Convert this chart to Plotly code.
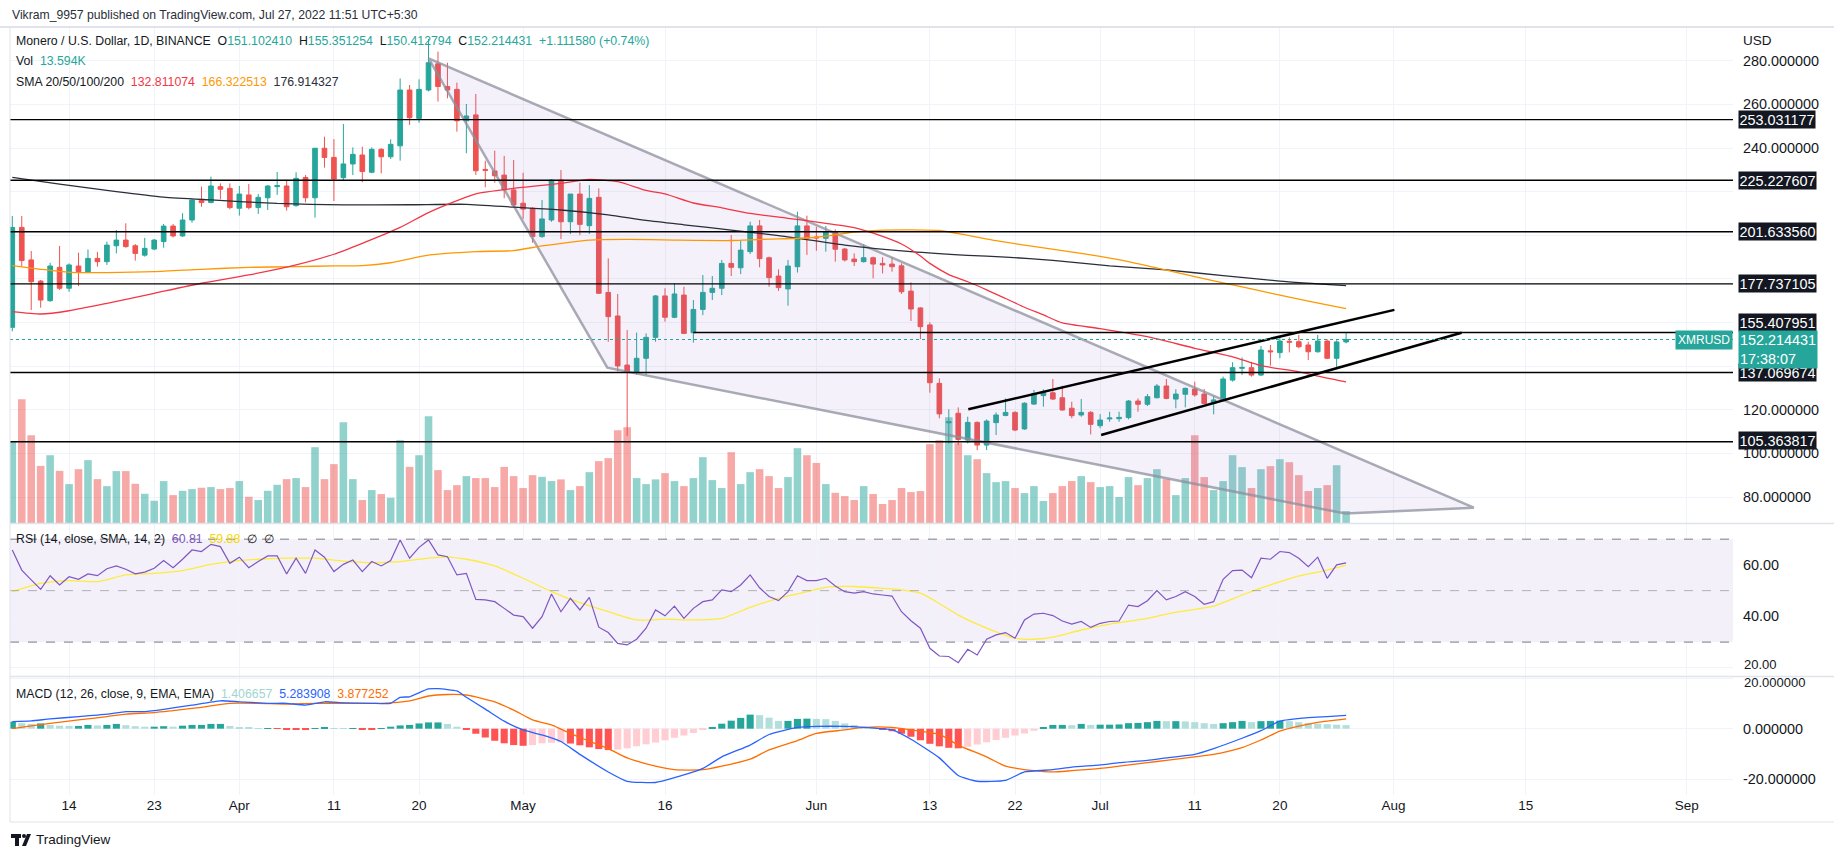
import plotly.graph_objects as go
import pandas as pd

# ---------------- data ----------------
START = "2022-03-08"
opens = [157.8, 203.6, 188.7, 179.0, 170.0, 185.3, 175.7, 185.9, 183.0, 189.4,
         187.9, 195.2, 197.8, 195.2, 190.9, 193.7, 197.1, 204.2, 199.7, 207.0,
         215.9, 215.0, 222.3, 221.5, 212.4, 218.5, 212.7, 217.2, 222.3, 222.6,
         213.6, 226.5, 217.2, 239.9, 235.7, 226.4, 232.7, 236.8, 228.9, 239.4,
         236.0, 241.0, 266.6, 253.6, 266.6, 278.6, 268.2, 266.9, 252.5, 255.2,
         230.2, 229.5, 227.6, 220.8, 214.7, 212.4, 199.4, 207.0, 225.3, 206.2,
         218.9, 204.4, 217.4, 173.8, 163.0, 140.5, 137.2, 143.6, 153.2, 172.2,
         162.4, 172.6, 155.3, 166.0, 173.8, 175.7, 187.1, 185.1, 192.5, 204.3,
         189.7, 181.3, 175.4, 185.6, 204.3, 199.2, 198.6, 201.6, 193.7, 189.1,
         187.9, 189.7, 187.1, 186.8, 186.0, 174.4, 166.7, 158.9, 132.1, 114.0,
         118.4, 106.1, 114.2, 103.8, 114.1, 117.4, 118.8, 111.2, 122.6, 126.5,
         127.8, 125.5, 120.7, 117.6, 118.8, 112.7, 115.8, 115.9, 116.4, 124.0,
         122.5, 125.5, 130.9, 124.9, 127.1, 129.5, 127.2, 122.9, 124.2, 133.6,
         139.0, 139.3, 135.9, 147.0, 146.2, 151.4, 151.2, 149.7, 146.6, 151.5,
         143.6, 151.102410]
highs = [208.8, 208.8, 192.8, 179.5, 187.4, 195.1, 187.1, 192.0, 193.5, 192.3,
         197.1, 202.4, 205.5, 196.0, 198.8, 198.3, 205.2, 205.2, 210.1, 216.2,
         222.3, 226.9, 223.8, 223.8, 222.6, 223.5, 218.9, 223.0, 229.0, 225.4,
         228.9, 227.6, 240.0, 245.2, 244.1, 251.0, 240.3, 240.6, 240.3, 239.9,
         244.0, 271.9, 268.9, 271.5, 290.0, 284.2, 279.1, 270.0, 260.2, 264.8,
         234.2, 238.8, 236.4, 234.5, 228.7, 212.9, 216.2, 225.6, 229.9, 218.9,
         224.1, 223.0, 221.5, 189.4, 173.1, 156.6, 155.4, 155.0, 172.6, 175.7,
         178.0, 176.4, 170.3, 181.8, 181.3, 188.7, 200.1, 197.5, 206.2, 207.0,
         190.2, 184.4, 188.7, 210.8, 209.0, 203.9, 204.3, 202.7, 194.2, 191.7,
         195.9, 190.2, 189.9, 189.9, 187.1, 178.4, 167.0, 160.1, 134.4, 120.2,
         121.1, 116.8, 114.7, 115.6, 118.8, 125.2, 119.3, 123.4, 129.1, 129.4,
         134.1, 131.0, 123.7, 124.9, 119.4, 118.0, 119.1, 119.1, 124.5, 125.2,
         127.2, 131.8, 134.1, 129.4, 130.2, 132.9, 129.5, 126.3, 135.2, 141.8,
         144.0, 142.0, 149.2, 149.7, 153.2, 153.2, 154.3, 151.2, 154.3, 152.3,
         151.9, 155.351254]
lows = [156.0, 185.6, 165.7, 166.8, 169.5, 174.9, 174.1, 176.7, 182.6, 185.6,
        186.4, 191.7, 194.3, 188.4, 190.2, 193.2, 194.3, 199.0, 199.2, 205.8,
        213.1, 214.7, 216.5, 211.9, 209.0, 211.9, 209.8, 211.6, 218.5, 211.3,
        213.1, 215.1, 208.1, 231.0, 215.7, 225.4, 227.6, 224.3, 228.4, 228.4,
        235.0, 234.2, 250.6, 251.6, 266.0, 261.3, 262.8, 247.5, 237.6, 227.6,
        222.0, 224.1, 217.0, 213.1, 207.5, 196.6, 198.8, 206.2, 198.3, 200.6,
        200.1, 200.6, 173.1, 151.2, 137.5, 108.0, 136.0, 136.0, 151.2, 160.4,
        162.0, 155.0, 150.8, 163.4, 170.3, 172.6, 181.3, 182.2, 191.4, 185.3,
        176.4, 174.5, 167.7, 182.9, 191.0, 192.9, 192.5, 187.9, 188.0, 185.9,
        187.5, 180.3, 182.5, 183.3, 173.1, 160.7, 152.4, 127.8, 116.1, 104.6,
        103.8, 104.6, 101.5, 101.5, 108.4, 117.0, 110.2, 110.8, 122.2, 121.4,
        124.5, 119.5, 116.1, 116.8, 108.7, 111.5, 114.5, 114.5, 115.6, 119.1,
        121.7, 125.2, 124.8, 120.7, 121.1, 126.0, 122.6, 117.9, 123.8, 132.9,
        135.9, 135.2, 135.5, 140.2, 143.6, 146.3, 148.2, 142.8, 146.2, 143.2,
        138.5, 150.412794]
closes = [203.6, 188.4, 178.7, 170.3, 185.9, 175.7, 186.4, 183.3, 189.4, 187.9,
          195.5, 197.8, 194.8, 191.7, 194.0, 197.8, 204.2, 199.7, 207.0, 216.2,
          215.0, 222.6, 221.1, 212.7, 218.9, 212.7, 217.4, 222.6, 222.8, 213.1,
          226.1, 217.2, 239.9, 235.7, 225.8, 232.7, 237.1, 229.2, 239.4, 236.0,
          241.7, 266.6, 253.9, 266.9, 279.1, 268.2, 266.6, 252.5, 254.7, 229.6,
          229.8, 227.3, 220.8, 213.9, 212.0, 199.4, 207.5, 225.3, 206.2, 218.9,
          205.0, 216.9, 173.4, 162.7, 140.1, 137.2, 143.6, 153.2, 172.2, 162.4,
          173.1, 155.0, 166.0, 173.8, 175.7, 187.1, 185.3, 193.2, 204.3, 189.3,
          180.6, 176.0, 185.9, 204.3, 198.6, 198.8, 201.6, 193.6, 188.7, 187.9,
          189.7, 186.8, 186.4, 185.6, 174.1, 166.2, 158.1, 132.4, 118.1, 114.5,
          106.4, 114.2, 103.8, 114.8, 117.6, 118.8, 110.7, 123.0, 127.5, 127.8,
          124.9, 119.9, 117.3, 118.8, 113.3, 115.3, 116.2, 116.5, 124.0, 122.5,
          126.0, 130.9, 125.2, 127.2, 129.8, 126.8, 122.9, 124.5, 134.1, 139.3,
          139.4, 135.9, 147.4, 146.6, 151.5, 151.0, 148.9, 146.6, 151.5, 143.6,
          151.1, 152.214431]
volume_k = [91.9, 140.1, 99.4, 64.7, 76.8, 59.1, 44.1, 61.0, 71.2, 49.7,
            41.8, 58.8, 58.8, 44.4, 33.1, 25.2, 47.5, 31.6, 36.5, 38.4,
            39.9, 40.7, 38.4, 39.6, 47.5, 29.7, 26.0, 36.5, 43.3, 49.7,
            50.9, 40.7, 85.9, 49.7, 66.7, 114.1, 49.7, 26.0, 37.3, 32.8,
            28.6, 93.8, 63.6, 76.8, 120.9, 59.9, 37.3, 42.9, 53.1, 50.9,
            50.9, 40.7, 63.6, 53.1, 39.6, 54.2, 52.3, 47.5, 49.4, 37.3,
            41.8, 57.6, 70.1, 73.5, 105.1, 108.5, 50.9, 44.1, 49.4, 56.5,
            47.5, 41.8, 50.9, 74.6, 48.6, 39.6, 80.2, 44.1, 57.6, 61.0,
            53.1, 39.6, 52.0, 84.8, 76.8, 68.1, 44.1, 34.2, 30.5, 26.0,
            41.8, 32.8, 21.5, 26.0, 39.6, 35.0, 36.2, 89.3, 93.8, 119.8,
            90.4, 76.8, 72.3, 56.5, 46.3, 47.5, 39.6, 33.9, 41.8, 24.9,
            33.9, 41.8, 47.5, 53.1, 46.3, 40.7, 41.8, 29.4, 52.0, 42.9,
            50.9, 61.0, 49.7, 31.6, 50.9, 99.4, 52.0, 37.3, 47.5, 76.8,
            63.3, 39.6, 61.0, 64.4, 72.3, 68.9, 54.2, 36.2, 39.6, 42.9,
            65.5, 13.594]

sma_red_idx = [0, 3, 6, 10, 15, 20, 25, 30, 34, 37, 41, 44, 49, 53, 58, 61, 64, 67, 69, 72,
               75, 78, 82, 86, 89, 92, 94, 96, 97, 99, 101, 103, 105, 107, 109, 111, 115, 120, 125, 129,
               132, 136, 139, 141]
sma_red_val = [165.0, 163.9, 165.4, 168.8, 173.4, 178.0, 181.8, 186.4, 191.3, 196.3,
               203.6, 210.4, 219.0, 221.5, 223.8, 225.6, 224.6, 220.6, 219.0, 214.8,
               212.6, 210.0, 207.8, 205.5, 203.5, 199.5, 196.0, 190.5, 187.1, 182.0,
               178.7, 175.0, 171.0, 167.0, 163.5, 159.8, 157.2, 153.5, 148.2, 144.3,
               140.2, 137.4, 134.5, 132.811074]
sma_orange_idx = [0, 3, 6, 10, 15, 20, 25, 30, 34, 37, 40, 44, 49, 53, 56, 61, 65, 70, 76, 80,
                  85, 89, 92, 98, 101, 104, 107, 111, 115, 118, 122, 125, 129, 133, 137, 141]
sma_orange_val = [186.1, 184.4, 183.0, 182.9, 183.3, 184.4, 185.3, 185.6, 186.0, 186.1,
                  187.4, 190.9, 192.5, 193.0, 195.1, 197.8, 198.1, 197.8, 197.6, 198.2,
                  199.1, 201.5, 202.4, 202.2, 200.0, 197.5, 195.5, 193.0, 190.3, 187.9,
                  184.0, 181.0, 177.3, 173.5, 169.8, 166.322513]
sma_black_idx = [0, 5, 11, 16, 21, 28, 35, 42, 48, 53, 58, 63, 67, 71, 76, 81, 88, 95, 101, 105,
                 110, 116, 122, 128, 134, 141]
sma_black_val = [226.6, 223.5, 220.0, 217.5, 216.2, 214.6, 213.9, 214.0, 214.2, 212.9,
                 211.6, 209.4, 206.8, 204.8, 202.4, 199.8, 195.5, 192.5, 190.8, 190.0,
                 188.5, 186.0, 184.1, 181.5, 179.0, 176.914327]

rsi = [65.8, 58.0, 54.2, 50.5, 55.8, 52.2, 55.4, 54.4, 56.5, 55.8,
       58.5, 59.6, 58.3, 56.5, 57.2, 58.7, 61.7, 58.9, 62.2, 65.8,
       65.2, 68.0, 67.1, 60.6, 63.0, 58.9, 61.3, 63.5, 63.5, 56.5,
       62.6, 56.7, 65.8, 63.0, 57.4, 60.2, 61.9, 57.4, 61.3, 59.6,
       61.7, 69.7, 62.6, 66.8, 69.7, 63.9, 63.2, 56.1, 56.7, 46.6,
       46.4, 45.7, 43.1, 40.5, 39.9, 35.4, 39.9, 48.7, 41.8, 47.0,
       42.5, 47.4, 35.8, 33.7, 29.5, 28.9, 31.1, 35.4, 42.5, 40.2,
       44.0, 39.2, 43.1, 45.7, 46.4, 50.3, 49.6, 52.2, 56.1, 51.1,
       47.7, 46.1, 49.6, 55.8, 53.9, 53.9, 54.8, 51.8, 49.6, 49.0,
       49.6, 48.7, 48.3, 47.9, 41.8, 38.3, 35.4, 27.6, 24.6, 24.4,
       22.0, 27.2, 25.0, 31.1, 32.8, 33.7, 31.5, 38.6, 40.9, 41.2,
       40.3, 38.2, 37.0, 38.0, 35.7, 37.3, 38.0, 38.2, 44.4, 43.8,
       46.1, 50.0, 46.4, 47.7, 49.6, 47.7, 44.7, 45.7, 54.4, 57.8,
       58.0, 55.0, 62.6, 62.2, 65.2, 64.8, 62.6, 59.3, 63.0, 54.8,
       60.0, 60.81]
rsi_sma_idx = [0, 3, 6, 9, 12, 15, 18, 21, 23, 26, 29, 32, 35, 38, 41, 44, 46, 48, 51, 54,
               57, 60, 63, 66, 69, 72, 75, 78, 81, 83, 86, 89, 92, 94, 96, 98, 100, 103, 106, 108,
               110, 113, 116, 120, 122, 125, 127, 130, 133, 136, 139, 141]
rsi_sma_val = [49.6, 52.8, 53.9, 53.5, 56.1, 56.7, 57.8, 60.2, 61.3, 62.2,
               62.6, 62.6, 61.5, 60.9, 61.3, 62.6, 63.0, 62.2, 59.6, 54.8,
               49.6, 45.3, 41.8, 38.6, 38.9, 38.6, 39.2, 43.5, 47.0, 48.7,
               51.3, 51.6, 50.9, 50.3, 49.0, 45.0, 40.5, 35.4, 31.5, 31.1,
               31.9, 34.7, 37.0, 39.2, 40.9, 42.7, 44.0, 48.3, 52.2, 55.7,
               58.0, 59.88]

macd_idx = [0, 2, 4, 7, 10, 12, 14, 16, 19, 22, 24, 27, 29, 31, 33, 35, 38, 40, 41, 42,
            44, 45, 47, 48, 50, 52, 54, 56, 58, 60, 63, 65, 68, 70, 73, 75, 78, 80, 83, 85,
            88, 90, 93, 95, 98, 100, 102, 105, 107, 110, 112, 115, 117, 120, 122, 125, 127, 130, 132, 134,
            137, 139, 141]
macd_val = [2.8, 3.1, 3.9, 4.8, 5.8, 6.8, 6.8, 7.7, 9.4, 11.1,
            10.7, 10.1, 10.1, 9.4, 10.7, 10.3, 10.1, 10.1, 12.5, 12.7,
            15.8, 15.9, 15.0, 12.5, 7.8, 3.0, -0.5, -2.5, -5.1, -10.2,
            -17.2, -20.9, -21.4, -19.5, -15.8, -11.2, -6.5, -2.3, 0.5, 0.9,
            0.9, 0.5, -0.5, -4.2, -11.6, -18.6, -20.9, -20.5, -17.2, -16.3,
            -15.3, -14.4, -13.5, -12.6, -11.6, -10.2, -7.9, -3.8, -0.8, 3.0,
            4.4, 4.8, 5.283908]
signal_idx = [0, 2, 4, 7, 10, 12, 15, 17, 20, 23, 26, 29, 32, 36, 39, 42, 44, 46, 48, 51,
              53, 55, 57, 58, 60, 63, 65, 68, 70, 73, 75, 78, 80, 83, 85, 88, 90, 93, 95, 98,
              100, 103, 105, 108, 110, 112, 115, 117, 120, 122, 125, 127, 130, 132, 134, 136, 138, 141]
signal_val = [0.0, 1.1, 2.1, 3.5, 4.8, 5.8, 6.4, 7.2, 8.5, 10.1,
              10.1, 9.8, 10.1, 10.1, 10.1, 11.1, 13.0, 13.6, 13.4, 10.7,
              7.4, 3.5, 1.5, -0.2, -3.5, -7.9, -11.6, -14.9, -16.3, -16.3,
              -14.9, -12.1, -8.4, -4.7, -1.9, -0.5, 0.5, 0.5, -0.5, -2.3,
              -6.5, -11.2, -14.9, -16.7, -17.2, -16.7, -15.8, -14.9, -13.5, -12.6,
              -11.2, -10.2, -7.5, -4.5, -1.0, 1.0, 2.5, 3.877252]
macd_hist = [2.8, 2.2, 1.9, 2.1, 1.5, 1.2, 1.1, 1.1, 1.5, 1.3,
             1.5, 1.9, 1.4, 1.0, 0.8, 0.8, 1.0, 0.8, 1.2, 1.5,
             1.5, 1.9, 1.9, 1.1, 0.5, 0.3, 0.1, 0.1, -0.1, -0.2,
             -0.3, -0.4, 0.2, 0.5, 0.2, 0.1, 0.1, -0.2, -0.2, 0.1,
             0.8, 1.3, 1.5, 2.1, 2.5, 2.5, 1.9, 0.8, -0.5, -2.0,
             -3.5, -4.8, -5.8, -6.5, -6.8, -6.5, -5.8, -5.6, -5.4, -5.9,
             -6.6, -7.4, -8.1, -8.5, -8.3, -7.8, -7.0, -6.2, -5.5, -4.6,
             -3.6, -2.7, -1.7, -0.5, 0.7, 2.0, 3.2, 4.3, 5.6, 5.4,
             4.4, 3.1, 3.1, 3.9, 4.0, 3.9, 3.8, 3.1, 2.1, 1.5,
             0.8, 0.4, -0.3, -1.0, -2.0, -3.2, -4.6, -6.0, -7.0, -7.6,
             -7.8, -7.2, -6.3, -5.4, -4.5, -3.6, -2.7, -1.9, -0.8, 0.5,
             1.5, 1.5, 1.4, 1.9, 1.5, 1.6, 1.6, 1.7, 2.2, 2.3,
             2.6, 3.1, 3.0, 3.0, 2.9, 2.6, 2.2, 1.9, 2.2, 2.6,
             3.1, 2.6, 3.0, 3.1, 3.2, 3.0, 2.6, 2.3, 2.0, 1.8,
             1.6, 1.406657]

# horizontal levels (drawn by the author)
levels = [253.031177, 225.227607, 201.633560, 177.737105, 155.407951, 137.069674, 105.363817]
level_starts = [None, None, None, None, "2022-05-19", None, None]
level_label_shift = [0, 0, 0, 0, 10, 0, 1]
# triangle and channel drawings: (date, price) anchors
tri_dates = ["2022-04-21", "2022-05-09 21:36", "2022-07-26 21:36", "2022-08-09 12:00"]
tri_prices = [281.1, 139.3, 72.4, 75.1]
chan_up_dates = ["2022-06-17 01:30", "2022-08-01 02:30"]
chan_up_prices = [120.2, 165.8]
chan_lo_dates = ["2022-07-01 02:30", "2022-08-08 05:00"]
chan_lo_prices = [108.4, 155.3]
last_price = 152.214431

tick_dates = ["2022-03-14", "2022-03-23", "2022-04-01", "2022-04-11", "2022-04-20", "2022-05-01",
              "2022-05-16", "2022-06-01", "2022-06-13", "2022-06-22", "2022-07-01", "2022-07-11",
              "2022-07-20", "2022-08-01", "2022-08-15", "2022-09-01"]
tick_text = ["14", "23", "Apr", "11", "20", "May", "16", "Jun", "13", "22", "Jul", "11", "20", "Aug", "15", "Sep"]
price_ticks = [80, 100, 120, 140, 160, 180, 200, 220, 240, 260, 280]
price_tick_text = ["80.000000", "100.000000", "120.000000", "", "", "", "", "", "240.000000", "260.000000", "280.000000"]
rsi_ticks = [20, 40, 60]
rsi_tick_text = ["20.00", "40.00", "60.00"]
macd_ticks = [-20, 0, 20]
macd_tick_text = ["-20.000000", "0.000000", "20.000000"]

# ---------------- styling ----------------
UP = "#26a69a"
DOWN = "#ef5350"
TXT = "#131722"
GRID = "#f0f3fa"
FONT = "Liberation Sans, Arial, sans-serif"
W, H = 1834, 859
ML, MR, MT, MB = 10, 101, 28, 64
PW, PH = W - ML - MR, H - MT - MB
BOT = H - MB  # bottom of the MACD pane in pixels


def px(xr):
    return (xr - ML) / PW


def py(yr):
    return (BOT - yr) / PH


dates = pd.date_range(START, periods=len(closes), freq="D")
X_RANGE = ["2022-03-07 18:10", "2022-09-05 21:36"]

fig = go.Figure()

# volume (base axis of price pane)
vol_colors = ["rgba(38,166,154,0.5)" if c >= o else "rgba(239,83,80,0.5)" for o, c in zip(opens, closes)]
fig.add_trace(go.Bar(x=dates, y=volume_k, marker=dict(color=vol_colors, line=dict(width=0)),
                     width=0.8 * 86400000, xaxis="x3", yaxis="y3", hoverinfo="skip"))

# triangle drawing
fig.add_trace(go.Scatter(x=tri_dates + tri_dates[:1], y=tri_prices + tri_prices[:1], mode="lines",
                         fill="toself", fillcolor="rgba(149,117,205,0.10)",
                         line=dict(color="rgba(140,143,156,0.75)", width=2.5),
                         xaxis="x3", yaxis="y4", hoverinfo="skip"))

# moving averages
for idx, val, col in [(sma_black_idx, sma_black_val, "#2a2e39"),
                      (sma_orange_idx, sma_orange_val, "#ff9800"),
                      (sma_red_idx, sma_red_val, "#f23645")]:
    fig.add_trace(go.Scatter(x=dates[idx], y=val, mode="lines",
                             line=dict(color=col, width=1.3, shape="spline", smoothing=0.6),
                             xaxis="x3", yaxis="y4", hoverinfo="skip"))

# candles
fig.add_trace(go.Candlestick(x=dates, open=opens, high=highs, low=lows, close=closes,
                             increasing=dict(line=dict(color=UP, width=1), fillcolor=UP),
                             decreasing=dict(line=dict(color=DOWN, width=1), fillcolor=DOWN),
                             whiskerwidth=0, xaxis="x3", yaxis="y4", hoverinfo="skip"))

# channel lines
for dx, dy in [(chan_up_dates, chan_up_prices), (chan_lo_dates, chan_lo_prices)]:
    fig.add_trace(go.Scatter(x=dx, y=dy, mode="lines", line=dict(color="#000000", width=2.5),
                             xaxis="x3", yaxis="y4", hoverinfo="skip"))

# RSI pane
fig.add_trace(go.Scatter(x=dates[rsi_sma_idx], y=rsi_sma_val, mode="lines",
                         line=dict(color="#ffeb3b", width=1.3, shape="spline", smoothing=0.6),
                         xaxis="x2", yaxis="y2", hoverinfo="skip"))
fig.add_trace(go.Scatter(x=dates, y=rsi, mode="lines", line=dict(color="#7e57c2", width=1.2),
                         xaxis="x2", yaxis="y2", hoverinfo="skip"))

# MACD pane
hist_colors = []
for i, v in enumerate(macd_hist):
    prev = macd_hist[i - 1] if i > 0 else v
    if v >= 0:
        hist_colors.append("#26a69a" if v >= prev else "#b2dfdb")
    else:
        hist_colors.append("#ff5252" if v <= prev else "#ffcdd2")
fig.add_trace(go.Bar(x=dates, y=macd_hist, marker=dict(color=hist_colors, line=dict(width=0)),
                     width=0.75 * 86400000, xaxis="x", yaxis="y", hoverinfo="skip"))
fig.add_trace(go.Scatter(x=dates[signal_idx], y=signal_val, mode="lines",
                         line=dict(color="#ff6d00", width=1.3, shape="spline", smoothing=0.6),
                         xaxis="x", yaxis="y", hoverinfo="skip"))
fig.add_trace(go.Scatter(x=dates[macd_idx], y=macd_val, mode="lines",
                         line=dict(color="#2962ff", width=1.3, shape="spline", smoothing=0.5),
                         xaxis="x", yaxis="y", hoverinfo="skip"))

# ---------------- shapes ----------------
shapes = []
for lv, st in zip(levels, level_starts):
    if st is None:
        shapes.append(dict(type="line", xref="x3 domain", x0=0, x1=1, yref="y4", y0=lv, y1=lv,
                           line=dict(color="#000000", width=1.4)))
    else:
        shapes.append(dict(type="line", xref="x3", x0=st, x1=X_RANGE[1], yref="y4", y0=lv, y1=lv,
                           line=dict(color="#000000", width=1.4)))
shapes.append(dict(type="line", xref="x3 domain", x0=0, x1=1, yref="y4", y0=last_price, y1=last_price,
                   line=dict(color=UP, width=1, dash="dot")))
# RSI band and levels
shapes.append(dict(type="rect", xref="x2 domain", x0=0, x1=1, yref="y2", y0=30, y1=70,
                   fillcolor="rgba(126,87,194,0.09)", line=dict(width=0), layer="below"))
for lv, col in [(70, "#787b86"), (50, "rgba(120,123,134,0.55)"), (30, "#787b86")]:
    shapes.append(dict(type="line", xref="x2 domain", x0=0, x1=1, yref="y2", y0=lv, y1=lv,
                       line=dict(color=col, width=1, dash="dash")))
# pane separators / frame
for yr in [523.5, 676.5]:
    shapes.append(dict(type="line", xref="paper", yref="paper", x0=0, x1=px(W), y0=py(yr), y1=py(yr),
                       line=dict(color="#e0e3eb", width=1.5)))
shapes.append(dict(type="line", xref="paper", yref="paper", x0=px(0), x1=px(W), y0=py(27), y1=py(27),
                   line=dict(color="#e0e3eb", width=2)))
shapes.append(dict(type="line", xref="paper", yref="paper", x0=0, x1=0, y0=py(822), y1=py(27),
                   line=dict(color="#e0e3eb", width=1)))
shapes.append(dict(type="line", xref="paper", yref="paper", x0=0, x1=px(W), y0=py(822), y1=py(822),
                   line=dict(color="#e0e3eb", width=1)))
# small TradingView logo glyph
shapes.append(dict(type="rect", xref="paper", yref="paper", x0=px(11), x1=px(21), y0=py(838), y1=py(834),
                   fillcolor=TXT, line=dict(width=0)))
shapes.append(dict(type="rect", xref="paper", yref="paper", x0=px(15), x1=px(19), y0=py(846), y1=py(834),
                   fillcolor=TXT, line=dict(width=0)))
shapes.append(dict(type="circle", xref="paper", yref="paper", x0=px(22), x1=px(26), y0=py(838), y1=py(834),
                   fillcolor=TXT, line=dict(width=0)))
shapes.append(dict(type="path", xref="paper", yref="paper",
                   path=f"M {px(27)} {py(834)} L {px(31)} {py(834)} L {px(26)} {py(846)} L {px(22)} {py(846)} Z",
                   fillcolor=TXT, line=dict(width=0)))

# ---------------- annotations ----------------
ann = []


def span(t, c):
    return f"<span style='color:{c}'>{t}</span>"


S = "\u00a0"
LEG = 12.3
AX = 14.4
ann.append(dict(text="Vikram_9957 published on TradingView.com, Jul 27, 2022 11:51 UTC+5:30",
                xref="paper", yref="paper", x=px(10), y=py(15), xanchor="left", yanchor="middle",
                showarrow=False, font=dict(size=12.2, color="#2a2e39", family=FONT)))
line1 = ("Monero / U.S. Dollar, 1D, BINANCE" + S * 2 + "O" + span("151.102410", UP) + S * 2 + "H" + span("155.351254", UP)
         + S * 2 + "L" + span("150.412794", UP) + S * 2 + "C" + span("152.214431", UP) + S * 2 + span("+1.111580 (+0.74%)", UP))
ann.append(dict(text=line1, xref="paper", yref="paper", x=px(14), y=py(41), xanchor="left", yanchor="middle",
                showarrow=False, font=dict(size=LEG, color=TXT, family=FONT)))
ann.append(dict(text="Vol" + S * 2 + span("13.594K", UP), xref="paper", yref="paper", x=px(14), y=py(61),
                xanchor="left", yanchor="middle", showarrow=False, font=dict(size=LEG, color=TXT, family=FONT)))
ann.append(dict(text="SMA 20/50/100/200" + S * 2 + span("132.811074", "#f23645") + S * 2 + span("166.322513", "#ff9800")
                + S * 2 + span("176.914327", "#2a2e39"),
                xref="paper", yref="paper", x=px(14), y=py(82), xanchor="left", yanchor="middle",
                showarrow=False, font=dict(size=LEG, color=TXT, family=FONT)))
ann.append(dict(text="RSI (14, close, SMA, 14, 2)" + S * 2 + span("60.81", "#7e57c2") + S * 2 + span("59.88", "#f5d800")
                + S * 2 + "\u2205" + S * 2 + "\u2205",
                xref="paper", yref="paper", x=px(14), y=py(539), xanchor="left", yanchor="middle",
                showarrow=False, font=dict(size=LEG, color=TXT, family=FONT)))
ann.append(dict(text="MACD (12, 26, close, 9, EMA, EMA)" + S * 2 + span("1.406657", "#9fd6d0") + S * 2
                + span("5.283908", "#2962ff") + S * 2 + span("3.877252", "#ff6d00"),
                xref="paper", yref="paper", x=px(14), y=py(694), xanchor="left", yanchor="middle",
                showarrow=False, font=dict(size=LEG, color=TXT, family=FONT)))
ann.append(dict(text="TradingView", xref="paper", yref="paper", x=px(34), y=py(840), xanchor="left",
                yanchor="middle", showarrow=False, font=dict(size=13.5, color=TXT, family=FONT)))
ann.append(dict(text="USD", xref="paper", yref="paper", x=1, xshift=8, y=py(41), xanchor="left",
                yanchor="middle", showarrow=False, font=dict(size=13.5, color=TXT, family=FONT)))
for lv, sh in zip(levels, level_label_shift):
    ann.append(dict(text=f"{lv:.6f}", xref="paper", yref="y4", x=1, xshift=5, y=lv, yshift=sh, xanchor="left",
                    yanchor="middle", showarrow=False, bgcolor="#131722", borderpad=0.5,
                    font=dict(size=AX, color="#ffffff", family=FONT)))
ann.append(dict(text=f"{last_price:.6f}<br>17:38:07", xref="paper", yref="y4", x=1, xshift=5, y=last_price,
                yshift=10, xanchor="left", yanchor="top", align="left", showarrow=False, bgcolor=UP, borderpad=1,
                font=dict(size=AX, color="#ffffff", family=FONT)))
ann.append(dict(text="XMRUSD", xref="paper", yref="y4", x=1, y=last_price, xanchor="right", yanchor="middle",
                showarrow=False, bgcolor=UP, borderpad=2, font=dict(size=12, color="#ffffff", family=FONT)))
# the two "20" labels sit at the seam of the RSI and MACD panes; nudge them apart
ann.append(dict(text=rsi_tick_text[0], xref="paper", yref="y2", x=1, xshift=9, y=rsi_ticks[0], yshift=3,
                xanchor="left", yanchor="middle", showarrow=False, font=dict(size=13, color=TXT, family=FONT)))
ann.append(dict(text=macd_tick_text[2], xref="paper", yref="y", x=1, xshift=9, y=macd_ticks[2], yshift=-4,
                xanchor="left", yanchor="middle", showarrow=False, font=dict(size=13, color=TXT, family=FONT)))

# ---------------- layout ----------------
xcommon = dict(type="date", range=X_RANGE, showgrid=True, gridcolor=GRID, gridwidth=1, tickvals=tick_dates,
               ticktext=tick_text, zeroline=False, showline=False, ticks="", fixedrange=True,
               rangeslider=dict(visible=False))
ycommon = dict(showgrid=True, gridcolor=GRID, gridwidth=1, zeroline=False, showline=False, ticks="",
               side="right", fixedrange=True, ticklabelstandoff=9,
               tickfont=dict(size=AX, color=TXT, family=FONT))

fig.update_layout(
    width=W, height=H, margin=dict(l=ML, r=MR, t=MT, b=MB),
    paper_bgcolor="white", plot_bgcolor="white", showlegend=False, hovermode=False,
    font=dict(family=FONT, color=TXT, size=13),
    xaxis=dict(**xcommon, anchor="y", domain=[0, 1], showticklabels=True,
               tickfont=dict(size=13.5, color=TXT, family=FONT)),
    xaxis2=dict(**xcommon, anchor="y2", domain=[0, 1], showticklabels=False, matches="x"),
    xaxis3=dict(**xcommon, anchor="y3", domain=[0, 1], showticklabels=False, matches="x"),
    yaxis=dict(**ycommon, anchor="x", domain=[0, py(677)], range=[(728.7 - BOT) / 2.515, (728.7 - 677) / 2.515],
               tickvals=macd_ticks, ticktext=[macd_tick_text[0], macd_tick_text[1], ""]),
    yaxis2=dict(**ycommon, anchor="x2", domain=[py(676), py(524)],
                range=[60 - (676 - 564.9) / 2.573, 60 + (564.9 - 524) / 2.573],
                tickvals=rsi_ticks, ticktext=["", rsi_tick_text[1], rsi_tick_text[2]]),
    yaxis3=dict(anchor="x3", domain=[py(523), 1], range=[0, 495 * 1.133], visible=False, fixedrange=True),
    yaxis4=dict(**ycommon, anchor="x3", overlaying="y3",
                range=[280 - (523 - 60.8) / 2.181, 280 + (60.8 - 28) / 2.181],
                tickvals=price_ticks, ticktext=price_tick_text),
    shapes=shapes, annotations=ann,
)

fig.write_html("out.html", config={"displayModeBar": False},
               post_script="document.body.style.margin='0px';document.body.style.overflow='hidden';")
